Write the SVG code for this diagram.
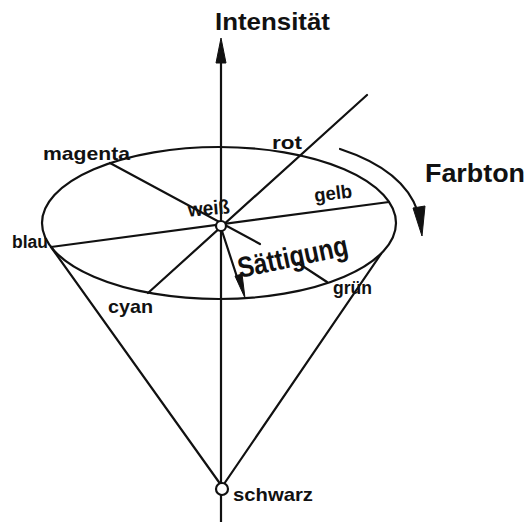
<svg xmlns="http://www.w3.org/2000/svg" width="526" height="522" viewBox="0 0 526 522">
<defs>
<style>
.ln{stroke:#111;stroke-width:2.2;fill:none;stroke-linecap:round}
.t{font-family:"Liberation Sans",Arial,sans-serif;font-weight:bold;fill:#111}
.ah{fill:#111;stroke:#111;stroke-width:1;stroke-linejoin:round}
</style>
</defs>
<rect width="526" height="522" fill="#fff"/>
<g id="connectors">
<line class="ln" x1="221" y1="522" x2="221" y2="58"/>
<polygon class="ah" points="221,38 216,63 226,63"/>
<ellipse class="ln" cx="219" cy="223" rx="177" ry="76"/>
<line class="ln" x1="51" y1="247" x2="389" y2="202"/>
<line class="ln" x1="148" y1="293" x2="367" y2="95"/>
<line class="ln" x1="110" y1="163" x2="260" y2="244"/>
<line class="ln" x1="298" y1="263" x2="327" y2="282"/>
<line class="ln" x1="222" y1="231" x2="238" y2="280"/>
<polygon class="ah" points="245,298 235,276 242,274"/>
<line class="ln" x1="51" y1="247" x2="221" y2="485"/>
<line class="ln" x1="381" y1="254" x2="224" y2="484"/>
<path class="ln" d="M340,149 Q404,170 418,212"/>
<polygon class="ah" points="422,236 413,208 425,206"/>
</g>
<g id="weiss-node"><circle cx="221" cy="226" r="5" fill="#fff" stroke="#111" stroke-width="2.2"/><text class="t" x="188" y="215" font-size="20" textLength="42" lengthAdjust="spacingAndGlyphs" transform="rotate(-5 209 210)">weiß</text></g>
<g id="schwarz-node"><circle cx="222" cy="489" r="6" fill="#fff" stroke="#111" stroke-width="2.2"/><text class="t" x="233" y="501" font-size="19" textLength="80" lengthAdjust="spacingAndGlyphs">schwarz</text></g>
<g id="intensitaet"><text class="t" x="215" y="30" font-size="24" textLength="115" lengthAdjust="spacingAndGlyphs">Intensität</text></g>
<g id="magenta"><text class="t" x="43" y="160" font-size="19" textLength="87" lengthAdjust="spacingAndGlyphs">magenta</text></g>
<g id="rot"><text class="t" x="272" y="149" font-size="19" textLength="30" lengthAdjust="spacingAndGlyphs">rot</text></g>
<g id="farbton"><text class="t" x="425" y="182" font-size="26" textLength="100" lengthAdjust="spacingAndGlyphs">Farbton</text></g>
<g id="gelb"><text class="t" x="315" y="202" font-size="19" textLength="38" lengthAdjust="spacingAndGlyphs" transform="rotate(-7 315 202)">gelb</text></g>
<g id="blau"><text class="t" x="12" y="248" font-size="18" textLength="36" lengthAdjust="spacingAndGlyphs">blau</text></g>
<g id="cyan"><text class="t" x="108" y="313" font-size="19" textLength="45" lengthAdjust="spacingAndGlyphs">cyan</text></g>
<g id="gruen"><text class="t" x="333" y="294" font-size="19" textLength="39" lengthAdjust="spacingAndGlyphs">grün</text></g>
<g id="saettigung"><text class="t" x="240" y="278" font-size="29" textLength="112" lengthAdjust="spacingAndGlyphs" transform="rotate(-12 240 278)">Sättigung</text></g>
</svg>
